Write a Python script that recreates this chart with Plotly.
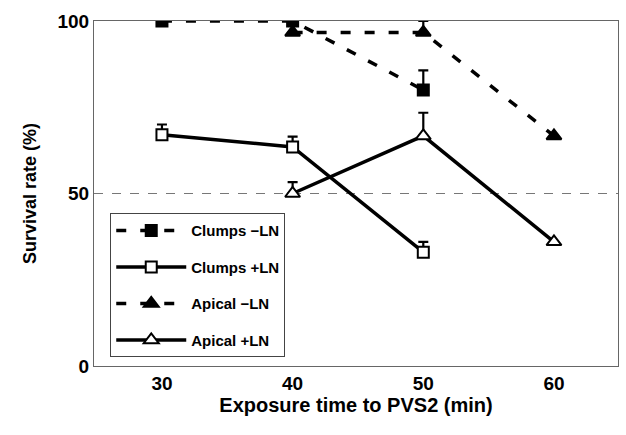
import plotly.graph_objects as go

x_clumps = [30, 40, 50]
clumps_minus = [100, 100, 80]
clumps_minus_err = [0, 0, 5.7]
clumps_plus = [67, 63.5, 33]
clumps_plus_err = [3, 3, 3]

x_apical = [40, 50, 60]
apical_minus = [96.7, 96.7, 66.7]
apical_minus_err = [0, 3.3, 0]
apical_plus = [50, 66.7, 36]
apical_plus_err = [3.3, 6.7, 0]

names = ["Clumps \u2212LN", "Clumps +LN", "Apical \u2212LN", "Apical +LN"]

fig = go.Figure()

def add(x, y, err, name, dash, symbol, fill, size, grp):
    fig.add_trace(go.Scatter(
        x=x, y=y, name=name, mode="lines+markers", legendgroup=grp,
        line=dict(color="black", width=3.5, dash=dash),
        marker=dict(symbol=symbol, size=size, color=fill,
                    line=dict(color="black", width=2)),
        error_y=dict(type="data", symmetric=False, array=err, arrayminus=[0] * len(err),
                     color="black", thickness=2.2, width=5),
    ))

add(x_clumps, clumps_minus, clumps_minus_err, names[0], "10px,14px", "square", "black", 11, "a")
add(x_clumps, clumps_plus, clumps_plus_err, names[1], "solid", "square", "white", 11, "b")
add(x_apical, apical_minus, apical_minus_err, names[2], "10px,14px", "triangle-up", "black", 13, "c")
add(x_apical, apical_plus, apical_plus_err, names[3], "solid", "triangle-up", "white", 13, "d")

fig.add_shape(type="line", xref="paper", x0=0, x1=1, yref="y", y0=50, y1=50,
              line=dict(color="#777777", width=1, dash="dash"), layer="below")

fig.update_layout(
    width=626, height=435,
    margin=dict(l=94, r=8, t=21, b=69),
    paper_bgcolor="white", plot_bgcolor="white",
    font=dict(family="Liberation Sans, Arial, sans-serif", color="black"),
    showlegend=True,
    legend=dict(x=0.031, y=0.443, xanchor="left", yanchor="top",
                bordercolor="#444444", borderwidth=1, bgcolor="white",
                font=dict(size=15, weight="bold"), tracegroupgap=14, itemwidth=70),
    xaxis=dict(range=[24.8, 64.9], tickvals=[30, 40, 50, 60], ticks="",
               showgrid=False, zeroline=False, showline=True, mirror=True,
               linecolor="#666666", linewidth=1,
               tickfont=dict(size=19, weight="bold"),
               title=dict(text="Exposure time to PVS2 (min)",
                          font=dict(size=20, weight="bold"), standoff=4)),
    yaxis=dict(range=[0, 100], tickvals=[0, 50, 100], ticks="",
               showgrid=False, zeroline=False, showline=True, mirror=True,
               linecolor="#666666", linewidth=1,
               tickfont=dict(size=19, weight="bold"),
               title=dict(text="Survival rate (%)",
                          font=dict(size=18, weight="bold"), standoff=16)),
)

fig.write_html("out.html")
